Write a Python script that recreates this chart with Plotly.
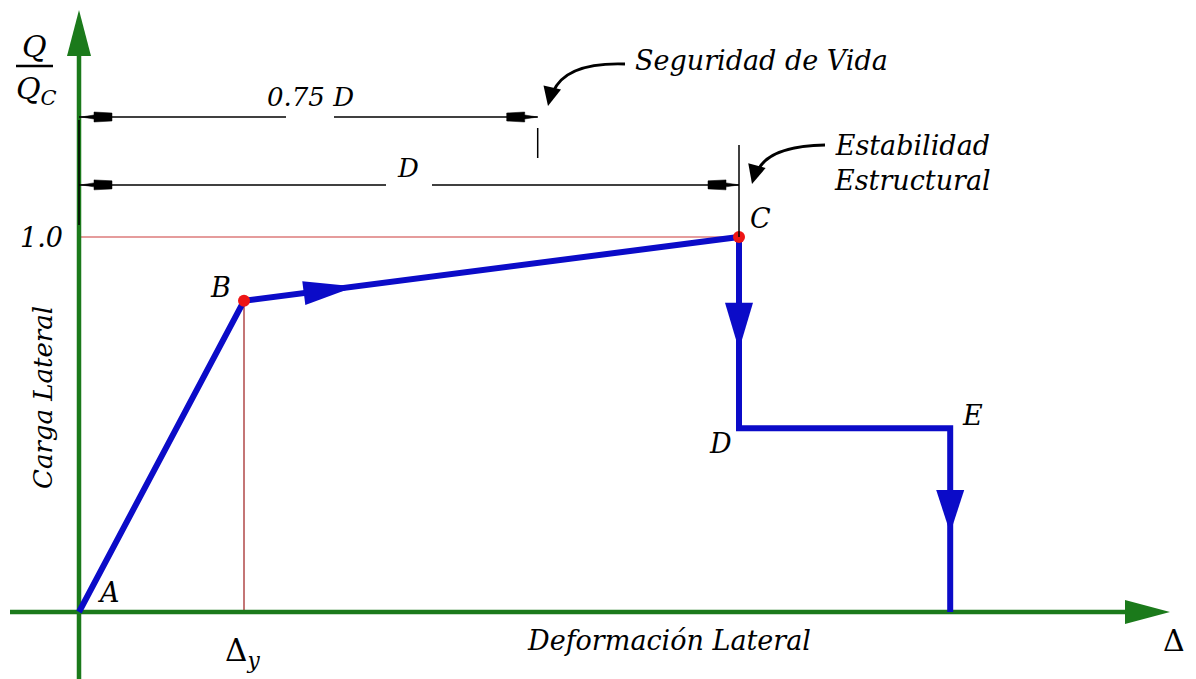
import plotly.graph_objects as go
import numpy as np

# ---------------- data ----------------
point_labels = ["A", "B", "C", "D", "E"]
curve_x = [0.0, 0.25, 1.0, 1.0, 1.32, 1.32]      # deformation / D
curve_y = [0.0, 0.83, 1.0, 0.49, 0.49, 0.0]      # Q / Qc
yield_x, yield_y = 0.25, 0.83                    # point B (Δy)
peak_x, peak_y = 1.0, 1.0                        # point C
dim_x = [0.695, 1.0]                             # extent of dimension lines
dim_y = [1.32, 1.139]                            # level of dimension lines
dim_labels = ["0.75 D", "D"]
perf_labels = ["Seguridad de Vida", "Estabilidad<br>Estructural"]
x_title = "Deformación Lateral"
y_title = "Carga Lateral"

# ---------------- geometry helpers ----------------
W, H = 1196, 679
OX, OY = 79, 612          # pixel of origin
SX, SY = 660, 375         # pixels per unit
xr = [-OX / SX, (W - OX) / SX]
yr = [-(H - OY) / SY, OY / SY]

def px(x): return OX + x * SX
def py(y): return OY - y * SY
def dx(p): return (p - OX) / SX
def dy(p): return (OY - p) / SY

def poly(pts):
    return "M " + " L ".join(f"{dx(a):.5f},{dy(b):.5f}" for a, b in pts) + " Z"

def arrow_tri(p0, p1, t, length, hw):
    x0, y0 = px(p0[0]), py(p0[1])
    x1, y1 = px(p1[0]), py(p1[1])
    tx, ty = x0 + t * (x1 - x0), y0 + t * (y1 - y0)
    L = np.hypot(x1 - x0, y1 - y0)
    ux, uy = (x1 - x0) / L, (y1 - y0) / L
    bx, by = tx - ux * length, ty - uy * length
    nx, ny = -uy, ux
    return poly([(tx, ty), (bx + nx * hw, by + ny * hw), (bx - nx * hw, by - ny * hw)])

def dim_head(tip_x, yc, d):
    pts = [(tip_x, yc), (tip_x - d * 13, yc - 2), (tip_x - d * 13, yc - 5),
           (tip_x - d * 31, yc - 4), (tip_x - d * 31, yc + 4),
           (tip_x - d * 13, yc + 5), (tip_x - d * 13, yc + 2)]
    return poly(pts)

def head_dir(tip, frm, length, hw):
    tx, ty = tip
    fx, fy = frm
    L = np.hypot(tx - fx, ty - fy)
    ux, uy = (tx - fx) / L, (ty - fy) / L
    bx, by = tx - ux * length, ty - uy * length
    nx, ny = -uy, ux
    return poly([(tx, ty), (bx + nx * hw, by + ny * hw), (bx - nx * hw, by - ny * hw)])

GREEN = "#1b7a1b"
BLUE = "#0b0bc8"
RED = "#ee1515"
FONT = "DejaVu Serif"

shapes = []
shapes.append(dict(type="line", x0=0, x1=peak_x, y0=peak_y, y1=peak_y,
                   line=dict(color="#cc3b3b", width=1.2), layer="below"))
shapes.append(dict(type="line", x0=yield_x, x1=yield_x, y0=0, y1=yield_y,
                   line=dict(color="#b04848", width=1.5), layer="below"))

# green axes
shapes.append(dict(type="line", x0=0, x1=0, y0=yr[0], y1=dy(50),
                   line=dict(color=GREEN, width=4.5), layer="below"))
shapes.append(dict(type="path", path=poly([(79, 10), (67, 56), (91, 56)]),
                   fillcolor=GREEN, line=dict(width=0)))
shapes.append(dict(type="line", x0=dx(10), x1=dx(1130), y0=0, y1=0,
                   line=dict(color=GREEN, width=4.5), layer="below"))
shapes.append(dict(type="path", path=poly([(1170, 612), (1125, 600), (1125, 624)]),
                   fillcolor=GREEN, line=dict(width=0)))

# dimension lines
gaps = [(286, 334), (386, 432)]
for xe, ye, g in zip(dim_x, dim_y, gaps):
    yc = py(ye)
    shapes.append(dict(type="line", x0=0, x1=dx(g[0]), y0=ye, y1=ye,
                       line=dict(color="black", width=1.5)))
    shapes.append(dict(type="line", x0=dx(g[1]), x1=xe, y0=ye, y1=ye,
                       line=dict(color="black", width=1.5)))
    shapes.append(dict(type="path", path=dim_head(OX + 2, yc, -1),
                       fillcolor="black", line=dict(color="black", width=0.5)))
    shapes.append(dict(type="path", path=dim_head(px(xe), yc, 1),
                       fillcolor="black", line=dict(color="black", width=0.5)))
shapes.append(dict(type="line", x0=0, x1=0, y0=dy(120), y1=dy(225),
                   line=dict(color="black", width=1.5)))
shapes.append(dict(type="line", x0=dim_x[0], x1=dim_x[0], y0=dy(128), y1=dy(158),
                   line=dict(color="black", width=1.5)))
shapes.append(dict(type="line", x0=dim_x[1], x1=dim_x[1], y0=dy(145), y1=peak_y,
                   line=dict(color="black", width=1.5)))

# curved pointer arrows
for (sx, sy), (cx, cy), (ex, ey), tip in [
        ((625, 64), (566, 62), (553, 92), (548, 106)),
        ((825, 145), (770, 146), (758, 170), (752, 184))]:
    shapes.append(dict(type="path",
                       path=f"M {dx(sx):.5f},{dy(sy):.5f} Q {dx(cx):.5f},{dy(cy):.5f} {dx(ex):.5f},{dy(ey):.5f}",
                       line=dict(color="black", width=3)))
    shapes.append(dict(type="path", path=head_dir(tip, (ex + 1, ey - 12), 19, 9),
                       fillcolor="black", line=dict(width=0)))

# blue direction arrowheads
pts = list(zip(curve_x, curve_y))
shapes.append(dict(type="path", path=arrow_tri(pts[1], pts[2], 0.225, 52, 12),
                   fillcolor=BLUE, line=dict(width=0)))
shapes.append(dict(type="path", path=arrow_tri(pts[2], pts[3], 0.59, 47, 14),
                   fillcolor=BLUE, line=dict(width=0)))
shapes.append(dict(type="path", path=arrow_tri(pts[4], pts[5], 0.57, 43, 14),
                   fillcolor=BLUE, line=dict(width=0)))

# fraction bar
shapes.append(dict(type="line", x0=dx(16), x1=dx(53), y0=dy(66), y1=dy(66),
                   line=dict(color="black", width=2.5)))

fig = go.Figure()
fig.add_trace(go.Scatter(x=curve_x, y=curve_y, mode="lines",
                         line=dict(color=BLUE, width=6), hoverinfo="skip"))
fig.add_trace(go.Scatter(x=[yield_x, peak_x], y=[yield_y, peak_y], mode="markers",
                         marker=dict(color=RED, size=12), hoverinfo="skip"))

ann = []
def T(text, x, y, size=26, **kw):
    d = dict(text=text, x=x, y=y, xref="x", yref="y", showarrow=False,
             font=dict(family=FONT, size=size, color="black"))
    d.update(kw)
    ann.append(d)

offs = [(29, 20), (-24, 13), (21, 19), (-19, -15), (22, 13)]
for lab, x, y, (xs, ys) in zip(point_labels, curve_x, curve_y, offs):
    T(f"<i>{lab}</i>", x, y, size=27, xshift=xs, yshift=ys)

T("<i>Q</i>", dx(34), dy(46), size=30)
T("<i>Q<sub>C</sub></i>", dx(36), dy(90), size=30)
T("<i>1.0</i>", dx(41), peak_y, size=27)
T(f"<i>{dim_labels[0]}</i>", dx(310), dy(97), size=26)
T(f"<i>{dim_labels[1]}</i>", dx(408), dy(168), size=26)
T(f"<i>{perf_labels[0]}</i>", dx(761), dy(60), size=27)
T(f"<i>{perf_labels[1]}</i>", dx(912), dy(163), size=27)
T(f"<i>{y_title}</i>", dx(43), dy(398), size=26, textangle=-90)
T(f"<i>{x_title}</i>", dx(669), dy(640), size=27)
T("Δ<sub><i>y</i></sub>", yield_x, dy(652), size=31, xshift=-2)
T("Δ", dx(1174), dy(640), size=30)

fig.update_layout(
    width=W, height=H, margin=dict(l=0, r=0, t=0, b=0),
    paper_bgcolor="white", plot_bgcolor="white", showlegend=False,
    xaxis=dict(range=xr, visible=False, fixedrange=True),
    yaxis=dict(range=yr, visible=False, fixedrange=True),
    shapes=shapes, annotations=ann,
)
fig.write_html("out.html", config={"displayModeBar": False},
               post_script="document.body.style.margin='0';document.body.style.overflow='hidden';")
